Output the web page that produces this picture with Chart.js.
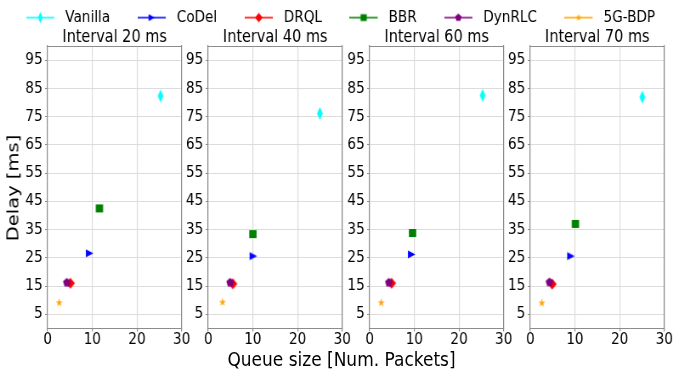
<!DOCTYPE html>
<html>
<head>
<meta charset="utf-8">
<script src="https://cdn.jsdelivr.net/npm/chart.js@4.4.1/dist/chart.umd.min.js"></script>
<style>
  html, body { margin: 0; padding: 0; background: #fff; overflow: hidden; }
  #fig { position: absolute; left: 0; top: 0; width: 792px; height: 370px;
         transform: scaleX(0.84975); transform-origin: 0 0; }
  #fig canvas { position: absolute; }
  .axis-label { position: absolute; font-family: 'DejaVu Sans', sans-serif; color: #000;
                white-space: nowrap; text-align: center; }
  #xlabel { left: 201.9px; top: 349.4px; width: 400px; font-size: 20px; line-height: 20px; }
  #ylabel { left: -84.1px; top: 177.5px; width: 200px; font-size: 19.5px; line-height: 20px;
            transform: rotate(-90deg); }
</style>
</head>
<body>
<div id="fig">
  <canvas id="legend" width="900" height="200" style="left:-49.4px; top:-22.6px;"></canvas>
  <canvas id="p0" width="210" height="324" style="left:15.70px; top:29px;"></canvas>
  <canvas id="p1" width="210" height="324" style="left:205.17px; top:29px;"></canvas>
  <canvas id="p2" width="210" height="324" style="left:394.64px; top:29px;"></canvas>
  <canvas id="p3" width="210" height="324" style="left:584.11px; top:29px;"></canvas>
  <div class="axis-label" id="xlabel">Queue size [Num. Packets]</div>
  <div class="axis-label" id="ylabel">Delay [ms]</div>
</div>
<script>
// Panels (one per sampling interval) and the schemes compared in each
const intervals = ['Interval 20 ms', 'Interval 40 ms', 'Interval 60 ms', 'Interval 70 ms'];
const series = ['Vanilla', 'CoDel', 'DRQL', 'BBR', 'DynRLC', '5G-BDP'];

// Mean queue size [packets] per panel
const vanillaQueue = [25.3, 25.0, 25.3, 25.1];
const codelQueue   = [9.4, 10.1, 9.4, 9.1];
const drqlQueue    = [5.1, 5.5, 4.9, 4.9];
const bbrQueue     = [11.6, 10.0, 9.6, 10.1];
const dynrlcQueue  = [4.3, 4.9, 4.3, 4.3];
const bdpQueue     = [2.6, 3.2, 2.6, 2.6];

// Mean delay [ms] per panel
const vanillaDelay = [82.3, 76.1, 82.5, 81.9];
const codelDelay   = [26.6, 25.6, 26.2, 25.6];
const drqlDelay    = [16.0, 15.8, 16.0, 15.7];
const bbrDelay     = [42.5, 33.4, 33.8, 37.0];
const dynrlcDelay  = [16.2, 16.2, 16.2, 16.3];
const bdpDelay     = [9.1, 9.3, 9.1, 9.0];

// Axis ticks
const xTicks = [0, 10, 20, 30];
const yTicks = [5, 15, 25, 35, 45, 55, 65, 75, 85, 95];

const queueBy = [vanillaQueue, codelQueue, drqlQueue, bbrQueue, dynrlcQueue, bdpQueue];
const delayBy = [vanillaDelay, codelDelay, drqlDelay, bbrDelay, dynrlcDelay, bdpDelay];

// ---- styling ----
const colors = ['#00ffff', '#0000ff', '#ff0000', '#008000', '#800080', '#ffa500'];
const spine = '#8c8c8c';
const gridColor = '#dcdcdc';

// Marker outlines in unit coordinates
function starOutline() {
  const pts = [];
  for (let k = 0; k < 10; k++) {
    const r = k % 2 === 0 ? 1 : 0.382;
    const a = -Math.PI / 2 + k * Math.PI / 5;
    pts.push([r * Math.cos(a), r * Math.sin(a)]);
  }
  return pts;
}
function pentagonOutline() {
  const pts = [];
  for (let k = 0; k < 5; k++) {
    const a = -Math.PI / 2 + k * 2 * Math.PI / 5;
    pts.push([Math.cos(a), Math.sin(a)]);
  }
  return pts;
}
const outlines = [
  [[0, -1], [1, 0], [0, 1], [-1, 0]],          // thin diamond
  [[1, 0], [-1, -1], [-1, 1]],                 // right triangle
  [[0, -1], [1, 0], [0, 1], [-1, 0]],          // diamond
  [[-1, -1], [1, -1], [1, 1], [-1, 1]],        // square
  pentagonOutline(),                           // pentagon
  starOutline()                                // star
];
const markerSize = [[6.8, 13.0], [8.8, 8.2], [10.6, 11.2], [8.6, 8.0], [9.4, 9.4], [8.8, 8.8]];

function tracePath(g, pts, cx, cy, w, h) {
  g.beginPath();
  pts.forEach(([px, py], k) => {
    const X = cx + px * w / 2, Y = cy + py * h / 2;
    if (k) g.lineTo(X, Y); else g.moveTo(X, Y);
  });
  g.closePath();
}

function markerCanvas(s, scale) {
  const w = markerSize[s][0] * scale, h = markerSize[s][1] * scale;
  const c = document.createElement('canvas');
  c.width = Math.ceil(w) + 2;
  c.height = Math.ceil(h) + 2;
  const g = c.getContext('2d');
  tracePath(g, outlines[s], c.width / 2, c.height / 2, w, h);
  g.fillStyle = colors[s];
  g.fill();
  return c;
}

function legendIcon(s) {
  const c = document.createElement('canvas');
  c.width = 38;
  c.height = 16;
  const g = c.getContext('2d');
  g.strokeStyle = colors[s];
  g.lineWidth = 1.6;
  g.beginPath();
  g.moveTo(0, 8);
  g.lineTo(33, 8);
  g.stroke();
  const w = markerSize[s][0] * 0.85, h = markerSize[s][1] * 0.85;
  tracePath(g, outlines[s], 16.5, 8, w, h);
  g.fillStyle = colors[s];
  g.fill();
  return c;
}

const markers = series.map((_, s) => markerCanvas(s, 1));
const legendIcons = series.map((_, s) => legendIcon(s));

Chart.defaults.font.family = "'DejaVu Sans', sans-serif";
Chart.defaults.color = '#000';

function panelConfig(p) {
  return {
    type: 'scatter',
    data: {
      datasets: series.map((name, s) => ({
        label: name,
        data: [{ x: queueBy[s][p], y: delayBy[s][p] }],
        pointStyle: markers[s],
        pointRadius: 5,
        backgroundColor: colors[s],
        borderColor: colors[s],
        order: -s
      }))
    },
    options: {
      responsive: false,
      animation: false,
      events: [],
      layout: { padding: { left: 0, right: 12.31, top: 0, bottom: 0.6 } },
      plugins: {
        legend: { display: false },
        tooltip: { enabled: false },
        title: {
          display: true, text: intervals[p], fullSize: false, color: '#000',
          font: { size: 17, lineHeight: 1, weight: 'normal' }, padding: 0
        }
      },
      scales: {
        x: {
          type: 'linear', position: 'bottom', min: 0, max: 30,
          afterBuildTicks: sc => { sc.ticks = xTicks.map(v => ({ value: v })); },
          afterFit: sc => { sc.height = 24; },
          ticks: { color: '#000', font: { size: 16, lineHeight: 1 }, padding: 0,
                   maxRotation: 0, autoSkip: false },
          grid: { color: gridColor, lineWidth: 1.2, tickColor: spine, tickLength: 3, tickWidth: 1.2 },
          border: { color: spine, width: 1 }
        },
        y: {
          type: 'linear', position: 'left', min: 0, max: 100,
          afterBuildTicks: sc => { sc.ticks = yTicks.map(v => ({ value: v })); },
          afterFit: sc => { sc.width = 40; },
          ticks: { color: '#000', font: { size: 16 }, padding: 2.9, autoSkip: false },
          grid: { color: gridColor, lineWidth: 1, tickColor: spine, tickLength: 3 },
          border: { color: spine, width: 1.2 }
        },
        x2: {
          type: 'linear', position: 'top', min: 0, max: 30,
          afterFit: sc => { sc.height = 0; },
          ticks: { display: false },
          grid: { display: false, drawTicks: false },
          border: { display: true, color: spine, width: 1 }
        },
        y2: {
          type: 'linear', position: 'right', min: 0, max: 100,
          afterFit: sc => { sc.width = 0; },
          ticks: { display: false },
          grid: { display: false, drawTicks: false },
          border: { display: true, color: spine, width: 1.2 }
        }
      }
    }
  };
}

intervals.forEach((_, p) => new Chart(document.getElementById('p' + p), panelConfig(p)));

// Shared legend across the top of the figure
new Chart(document.getElementById('legend'), {
  type: 'scatter',
  data: { datasets: series.map(name => ({ label: name, data: [] })) },
  options: {
    responsive: false,
    animation: false,
    events: [],
    scales: { x: { display: false }, y: { display: false } },
    plugins: {
      tooltip: { enabled: false },
      legend: {
        display: true, position: 'top', align: 'center',
        labels: {
          usePointStyle: true, pointStyleWidth: 37.8, boxHeight: 16, padding: 32.6,
          color: '#000', font: { size: 16 },
          generateLabels: () => series.map((name, s) => ({
            text: name, pointStyle: legendIcons[s], fillStyle: colors[s],
            strokeStyle: colors[s], lineWidth: 0, hidden: false, datasetIndex: s, fontColor: '#000'
          }))
        }
      }
    }
  }
});
</script>
</body>
</html>
